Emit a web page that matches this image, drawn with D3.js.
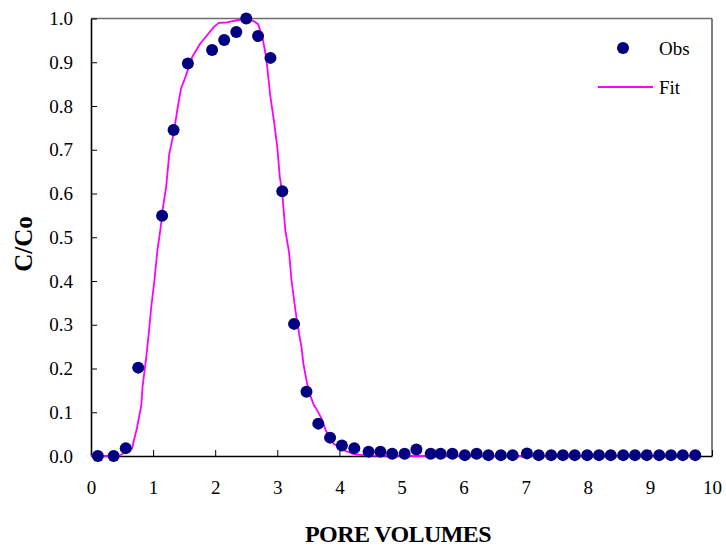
<!DOCTYPE html>
<html>
<head>
<meta charset="utf-8">
<script src="https://cdn.jsdelivr.net/npm/d3@7"></script>
<style>
  body { margin: 0; background: #fff; }
  text { font-family: "Liberation Serif", "Times New Roman", serif; fill: #000; }
</style>
</head>
<body>
<div id="chart-area"></div>
<script>
// observed breakthrough data
const obsPV = [0.11, 0.365, 0.56, 0.76, 1.145, 1.33, 1.56, 1.95, 2.145, 2.34, 2.5, 2.69, 2.89, 3.08,
  3.27, 3.47, 3.66, 3.85, 4.04, 4.24, 4.47, 4.66, 4.85, 5.05, 5.24, 5.47, 5.63, 5.82, 6.02, 6.21,
  6.40, 6.60, 6.79, 7.02, 7.21, 7.41, 7.60, 7.79, 7.99, 8.18, 8.37, 8.57, 8.76, 8.95, 9.15, 9.34,
  9.53, 9.73]
const obsC = [0.0, 0.0, 0.018, 0.202, 0.549, 0.745, 0.897, 0.928, 0.951, 0.969, 1.0, 0.96, 0.91, 0.605,
  0.302, 0.147, 0.074, 0.042, 0.024, 0.018, 0.010, 0.010, 0.005, 0.005, 0.015, 0.005, 0.005, 0.005, 0.002, 0.005,
  0.002, 0.002, 0.002, 0.006, 0.002, 0.002, 0.002, 0.002, 0.002, 0.002, 0.002, 0.002, 0.002, 0.002, 0.002, 0.002,
  0.002, 0.002]

// fitted curve
const fitPV = [0.0, 0.45, 0.56, 0.66, 0.74, 0.81, 0.83, 0.89, 0.93, 0.97, 1.02, 1.07, 1.12, 1.15, 1.21,
  1.26, 1.33, 1.40, 1.45, 1.52, 1.63, 1.76, 1.98, 2.06, 2.19, 2.35, 2.50, 2.62, 2.69, 2.76, 2.82,
  2.89, 2.945, 3.0, 3.04, 3.08, 3.13, 3.19, 3.23, 3.30, 3.35, 3.39, 3.42, 3.48, 3.54, 3.59, 3.62,
  3.67, 3.70, 3.78, 3.81, 3.91, 4.07, 4.24, 4.45, 5.0, 9.75]
const fitC = [0, 0, 0.009, 0.017, 0.064, 0.116, 0.158, 0.226, 0.28, 0.34, 0.40, 0.47, 0.52, 0.56, 0.615,
  0.69, 0.737, 0.80, 0.84, 0.866, 0.912, 0.943, 0.981, 0.99, 0.991, 0.996, 1.0, 0.994, 0.987, 0.958, 0.912,
  0.82, 0.767, 0.706, 0.638, 0.60, 0.515, 0.465, 0.40, 0.325, 0.28, 0.249, 0.211, 0.165, 0.135, 0.116, 0.11,
  0.097, 0.089, 0.059, 0.051, 0.028, 0.013, 0.004, 0.001, 0, 0]

const xTicks = [0, 1, 2, 3, 4, 5, 6, 7, 8, 9, 10]
const yTicks = [0, 0.1, 0.2, 0.3, 0.4, 0.5, 0.6, 0.7, 0.8, 0.9, 1.0]

const SERIF = '"Liberation Serif", "Times New Roman", serif'
const MARGIN = { LEFT: 91, RIGHT: 14, TOP: 18.5, BOTTOM: 95 }
const W = 726, H = 551
const WIDTH = W - MARGIN.LEFT - MARGIN.RIGHT
const HEIGHT = H - MARGIN.TOP - MARGIN.BOTTOM

const svg = d3.select("#chart-area").append("svg")
  .attr("width", W)
  .attr("height", H)
  .style("font-family", SERIF)

const g = svg.append("g")
  .attr("transform", `translate(${MARGIN.LEFT}, ${MARGIN.TOP})`)

const x = d3.scaleLinear().domain([0, 10]).range([0, WIDTH])
const y = d3.scaleLinear().domain([0, 1]).range([HEIGHT, 0])

// frame: top and right in grey
g.append("line")
  .attr("x1", 0).attr("x2", WIDTH).attr("y1", 0).attr("y2", 0)
  .attr("stroke", "#6e6e6e").attr("stroke-width", 1.5)
g.append("line")
  .attr("x1", WIDTH).attr("x2", WIDTH).attr("y1", 0).attr("y2", HEIGHT)
  .attr("stroke", "#555").attr("stroke-width", 1.5)

// axes
const xAxisGroup = g.append("g")
  .attr("transform", `translate(0, ${HEIGHT})`)
  .call(d3.axisBottom(x).tickValues(xTicks).tickSizeInner(-6).tickSizeOuter(0).tickPadding(25))
const yAxisGroup = g.append("g")
  .call(d3.axisLeft(y).tickValues(yTicks).tickSizeInner(-6).tickSizeOuter(0).tickPadding(18)
    .tickFormat(d3.format(".1f")))

for (const ax of [xAxisGroup, yAxisGroup]) {
  ax.attr("font-family", null).style("font-family", SERIF)
  ax.select(".domain").attr("stroke", "#000").attr("stroke-width", 1.6)
  ax.selectAll(".tick line").attr("stroke", "#000")
  ax.selectAll(".tick text")
    .style("font-family", SERIF)
    .attr("font-size", "19px")
    .attr("fill", "#000")
}

// fit curve
const fitData = fitPV.map((pv, i) => ({ pv: pv, c: fitC[i] }))
g.append("path")
  .datum(fitData)
  .attr("fill", "none")
  .attr("stroke", "#ff00ff")
  .attr("stroke-width", 1.8)
  .attr("d", d3.line().x(d => x(d.pv)).y(d => y(d.c)))

// observations
const obsData = obsPV.map((pv, i) => ({ pv: pv, c: obsC[i] }))
g.selectAll("circle.obs").data(obsData)
  .enter().append("circle")
  .attr("class", "obs")
  .attr("cx", d => x(d.pv))
  .attr("cy", d => y(d.c))
  .attr("r", 6)
  .attr("fill", "#000080")

// axis titles
svg.append("text")
  .attr("x", 398)
  .attr("y", 542)
  .attr("text-anchor", "middle")
  .attr("font-size", "24px")
  .attr("font-weight", "bold")
  .attr("letter-spacing", "-0.6px")
  .text("PORE VOLUMES")

svg.append("text")
  .attr("transform", "translate(32, 244) rotate(-90)")
  .attr("text-anchor", "middle")
  .attr("font-size", "25px")
  .attr("font-weight", "bold")
  .text("C/Co")

// legend
const legend = svg.append("g")
legend.append("circle")
  .attr("cx", 623).attr("cy", 48).attr("r", 6)
  .attr("fill", "#000080")
legend.append("text")
  .attr("x", 659).attr("y", 55)
  .attr("font-size", "19px")
  .text("Obs")
legend.append("line")
  .attr("x1", 598).attr("x2", 653).attr("y1", 87).attr("y2", 87)
  .attr("stroke", "#ff00ff").attr("stroke-width", 1.8)
legend.append("text")
  .attr("x", 659).attr("y", 94)
  .attr("font-size", "19px")
  .text("Fit")
</script>
</body>
</html>
